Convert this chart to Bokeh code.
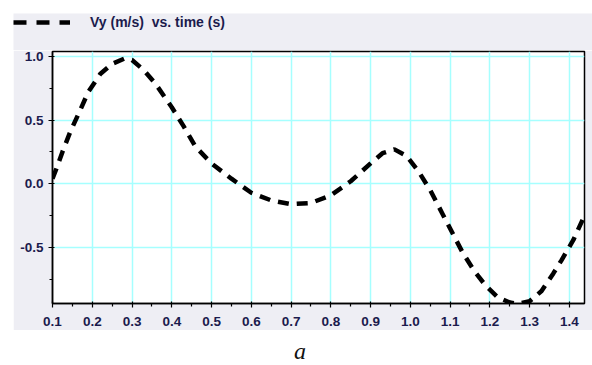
from bokeh.plotting import figure
from bokeh.models import FixedTicker, PrintfTickFormatter, Legend, LegendItem, Div, Range1d
from bokeh.layouts import column, row
from bokeh.embed import file_html
from bokeh.resources import INLINE

# data
time_s = [0.10, 0.11, 0.125, 0.145, 0.17, 0.19, 0.22, 0.25, 0.28, 0.30, 0.33, 0.36, 0.40, 0.43, 0.46,
          0.50, 0.55, 0.60, 0.65, 0.70, 0.75, 0.80, 0.85, 0.90, 0.93, 0.96, 0.99, 1.02, 1.05, 1.08,
          1.10, 1.13, 1.16, 1.19, 1.22, 1.25, 1.27, 1.30, 1.33, 1.36, 1.38, 1.41, 1.435]
vy = [0.04, 0.12, 0.25, 0.41, 0.58, 0.72, 0.86, 0.94, 0.98, 0.97, 0.89, 0.78, 0.60, 0.45, 0.29,
      0.16, 0.04, -0.07, -0.13, -0.16, -0.15, -0.09, 0.02, 0.16, 0.24, 0.27, 0.22, 0.10, -0.05, -0.23,
      -0.35, -0.53, -0.68, -0.80, -0.89, -0.93, -0.94, -0.92, -0.84, -0.70, -0.60, -0.44, -0.27]
x_major = [0.1, 0.2, 0.3, 0.4, 0.5, 0.6, 0.7, 0.8, 0.9, 1.0, 1.1, 1.2, 1.3, 1.4]
x_minor = [0.15, 0.25, 0.35, 0.45, 0.55, 0.65, 0.75, 0.85, 0.95, 1.05, 1.15, 1.25, 1.35]
y_major = [-0.5, 0.0, 0.5, 1.0]
y_minor = [-0.75, -0.25, 0.25, 0.75]
legend_label = "Vy (m/s)  vs. time (s)"
caption = "a"

GRAY = "#EEEEF4"
TXT = "#1b1b4d"

# header strip holding the legend (its line shares the data but lies outside the strip's ranges)
h = figure(width=579, height=37, output_backend="svg", toolbar_location=None,
           x_axis_type=None, y_axis_type=None, x_range=Range1d(10, 11), y_range=Range1d(10, 11),
           min_border=0, min_border_left=0, min_border_right=0, min_border_top=0, min_border_bottom=0)
h.margin = (13, 0, 0, 13)
h.border_fill_color = GRAY
h.background_fill_color = GRAY
h.outline_line_color = None
h.xgrid.visible = False
h.ygrid.visible = False
lr = h.line(x=time_s, y=vy, line_color="black", line_width=4.5, line_dash="13 10", line_cap="butt")
leg = Legend(items=[LegendItem(label=legend_label, renderers=[lr])], location="top_left",
             orientation="horizontal")
leg.margin = 0
leg.padding = 0
leg.border_line_color = None
leg.background_fill_alpha = 0
leg.glyph_width = 57
leg.glyph_height = 18
leg.label_standoff = 20
leg.label_text_font = "Liberation Sans"
leg.label_text_font_size = "14px"
leg.label_text_font_style = "bold"
leg.label_text_color = TXT
leg.label_height = 18
h.add_layout(leg)

p = figure(width=579, height=280, output_backend="svg", toolbar_location=None,
           x_range=Range1d(0.1, 1.438), y_range=Range1d(-0.938, 1.037),
           min_border_left=39, min_border_right=8, min_border_top=1, min_border_bottom=27)
p.margin = (0, 0, 0, 13)
p.border_fill_color = GRAY
p.background_fill_color = "white"
p.outline_line_color = "black"
p.outline_line_width = 1.5

r = p.line(time_s, vy, line_color="black", line_width=4.5, line_dash="11 8", line_cap="butt")

for ax in (p.xaxis[0], p.yaxis[0]):
    ax.axis_line_color = "black"
    ax.axis_line_width = 1.5
    ax.major_tick_line_color = "black"
    ax.minor_tick_line_color = "black"
    ax.major_tick_line_width = 1.2
    ax.minor_tick_line_width = 1.2
    ax.major_tick_out = 4
    ax.major_tick_in = 2
    ax.minor_tick_out = 3
    ax.minor_tick_in = 0
    ax.major_label_text_font = "Liberation Sans"
    ax.major_label_text_font_size = "13.5px"
    ax.major_label_text_font_style = "bold"
    ax.major_label_text_color = TXT
    ax.formatter = PrintfTickFormatter(format="%.1f")

p.xaxis[0].ticker = FixedTicker(ticks=x_major, minor_ticks=x_minor)
p.yaxis[0].ticker = FixedTicker(ticks=y_major, minor_ticks=y_minor)
p.xaxis[0].major_label_standoff = 9
p.yaxis[0].major_label_standoff = 5

p.xgrid[0].grid_line_color = "#A6FFFF"
p.ygrid[0].grid_line_color = "#A6FFFF"
p.xgrid[0].grid_line_width = 1.5
p.ygrid[0].grid_line_width = 1.5

div = Div(text=f"<i>{caption}</i>", width=592, height=35, margin=(0, 0, 0, 0),
          styles={"font-family": "Liberation Serif", "font-size": "24px", "text-align": "center",
                  "width": "600px", "padding-top": "4px", "color": "#111"})

layout = column(row(h, spacing=0), row(p, spacing=0), div, spacing=0)
open("out.html", "w").write(file_html(layout, INLINE))
